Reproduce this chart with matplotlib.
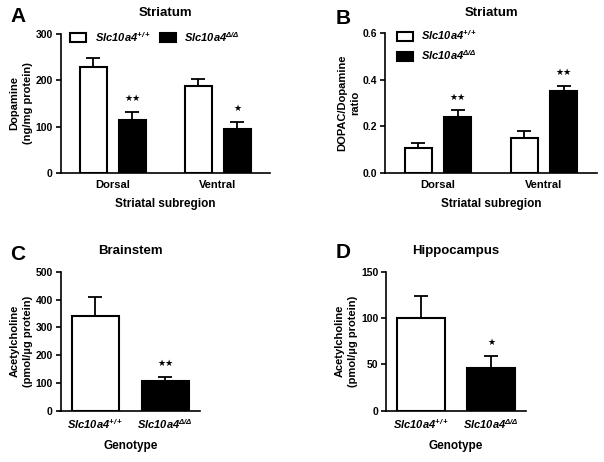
import matplotlib
matplotlib.use("Agg")
import matplotlib.pyplot as plt
import numpy as np

plt.rcParams['font.family'] = ['Liberation Sans', 'DejaVu Sans']
plt.rcParams['font.weight'] = 'bold'
plt.rcParams['mathtext.fontset'] = 'custom'
plt.rcParams['mathtext.rm'] = 'Liberation Sans:bold:italic'
plt.rcParams['mathtext.it'] = 'Liberation Sans:bold:italic'
plt.rcParams['mathtext.bf'] = 'Liberation Sans:bold:italic'

# ---------------- data ----------------
wt_label = r'$Slc10a4^{+/+}$'
ko_label = r'$Slc10a4^{\Delta/\Delta}$'

regions = ['Dorsal', 'Ventral']

# Panel A: Dopamine (ng/mg protein)
da_wt = [228, 188]
da_wt_err = [21, 14]
da_ko = [114, 95]
da_ko_err = [18, 15]
da_sig = ['★★', '★']

# Panel B: DOPAC/Dopamine ratio
ratio_wt = [0.106, 0.149]
ratio_wt_err = [0.024, 0.033]
ratio_ko = [0.240, 0.354]
ratio_ko_err = [0.029, 0.021]
ratio_sig = ['★★', '★★']

genotypes = [wt_label, ko_label]

# Panel C: Brainstem acetylcholine (pmol/ug protein)
bs_ach = [340, 108]
bs_ach_err = [68, 15]
bs_sig = ['', '★★']

# Panel D: Hippocampus acetylcholine
hc_ach = [100, 46]
hc_ach_err = [24, 13]
hc_sig = ['', '★']

# ---------------- figure ----------------
W, H = 604, 462
fig = plt.figure(figsize=(W / 100, H / 100), dpi=100)


def px_axes(x0, y0, x1, y1):
    return fig.add_axes([x0 / W, 1 - y1 / H, (x1 - x0) / W, (y1 - y0) / H])


def style(ax):
    for s in ['top', 'right']:
        ax.spines[s].set_visible(False)
    for s in ['left', 'bottom']:
        ax.spines[s].set_linewidth(1.2)
    ax.tick_params(axis='y', direction='out', length=3.5, width=1.2, labelsize=7.5, pad=2)
    ax.tick_params(axis='x', length=0, labelsize=8, pad=5)
    for lab in ax.get_yticklabels():
        lab.set_fontweight('bold')


def stars(ax, xs, tops, sig):
    for x, t, s in zip(xs, tops, sig):
        if s:
            ax.annotate(s, (x, t), xytext=(0, 9.5), textcoords='offset points',
                        ha='center', va='center', fontsize=6.5,
                        family='DejaVu Sans')


bar_kw = dict(edgecolor='black', linewidth=1.5)
err_kw = dict(elinewidth=1.3, capthick=1.3, ecolor='black')
CAP = 4.7
YL_KW = dict(fontsize=8, fontweight='bold', labelpad=2, linespacing=1.4)

# ---- Panel A ----
axA = px_axes(60.5, 34, 270, 173)
x = np.arange(len(regions))
off, bw = 0.187, 0.258
bA1 = axA.bar(x - off, da_wt, bw, color='white', yerr=[np.zeros(2), da_wt_err],
              capsize=CAP, error_kw=err_kw, label=wt_label, **bar_kw)
bA2 = axA.bar(x + off, da_ko, bw, color='black', yerr=[np.zeros(2), da_ko_err],
              capsize=CAP, error_kw=err_kw, label=ko_label, **bar_kw)
axA.set_xlim(-0.5, 1.5)
axA.set_ylim(0, 300)
axA.set_yticks([0, 100, 200, 300])
axA.set_xticks(x)
axA.set_xticklabels(regions, fontweight='bold')
axA.set_xlabel('Striatal subregion', fontsize=8.5, fontweight='bold', labelpad=6)
axA.set_ylabel('Dopamine\n(ng/mg protein)', **YL_KW)
style(axA)
stars(axA, x + off, np.array(da_ko) + np.array(da_ko_err), da_sig)
axA.legend(handles=[bA1, bA2], ncol=2, frameon=False, fontsize=8,
           loc='upper left', bbox_to_anchor=(0.02, 1.07), handlelength=1.45,
           handleheight=0.85, columnspacing=0.8, handletextpad=0.75, borderpad=0)

# ---- Panel B ----
axB = px_axes(385, 33.3, 597, 173)
axB.bar(x - off, ratio_wt, bw, color='white', yerr=[np.zeros(2), ratio_wt_err],
        capsize=CAP, error_kw=err_kw, label=wt_label, **bar_kw)
axB.bar(x + off, ratio_ko, bw, color='black', yerr=[np.zeros(2), ratio_ko_err],
        capsize=CAP, error_kw=err_kw, label=ko_label, **bar_kw)
axB.set_xlim(-0.5, 1.5)
axB.set_ylim(0, 0.6)
axB.set_yticks([0.0, 0.2, 0.4, 0.6])
axB.set_yticklabels(['0.0', '0.2', '0.4', '0.6'])
axB.set_xticks(x)
axB.set_xticklabels(regions, fontweight='bold')
axB.set_xlabel('Striatal subregion', fontsize=8.5, fontweight='bold', labelpad=6)
axB.set_ylabel('DOPAC/Dopamine\nratio', **YL_KW)
style(axB)
stars(axB, x + off, np.array(ratio_ko) + np.array(ratio_ko_err), ratio_sig)
axB.legend(ncol=1, frameon=False, fontsize=8, loc='upper left',
           bbox_to_anchor=(0.03, 1.075), handlelength=1.45, handleheight=0.85,
           handletextpad=0.75, borderpad=0, labelspacing=0.55)

# ---- Panel C ----
xg = np.arange(len(genotypes))
axC = px_axes(60.5, 271.7, 200, 410.7)
axC.bar(xg, bs_ach, 0.675, color=['white', 'black'],
        yerr=[np.zeros(2), bs_ach_err], capsize=CAP, error_kw=err_kw, **bar_kw)
axC.set_xlim(-0.5, 1.5)
axC.set_ylim(0, 500)
axC.set_yticks([0, 100, 200, 300, 400, 500])
axC.set_xticks(xg)
axC.set_xticklabels(genotypes, fontsize=8)
axC.set_xlabel('Genotype', fontsize=8.5, fontweight='bold', labelpad=6)
axC.set_ylabel('Acetylcholine\n(pmol/µg protein)', **YL_KW)
style(axC)
stars(axC, xg, np.array(bs_ach) + np.array(bs_ach_err), bs_sig)

# ---- Panel D ----
axD = px_axes(386, 271.7, 526, 410.7)
axD.bar(xg, hc_ach, 0.675, color=['white', 'black'],
        yerr=[np.zeros(2), hc_ach_err], capsize=CAP, error_kw=err_kw, **bar_kw)
axD.set_xlim(-0.5, 1.5)
axD.set_ylim(0, 150)
axD.set_yticks([0, 50, 100, 150])
axD.set_xticks(xg)
axD.set_xticklabels(genotypes, fontsize=8)
axD.set_xlabel('Genotype', fontsize=8.5, fontweight='bold', labelpad=6)
axD.set_ylabel('Acetylcholine\n(pmol/µg protein)', **YL_KW)
style(axD)
stars(axD, xg, np.array(hc_ach) + np.array(hc_ach_err), hc_sig)

# ---- titles and panel letters ----
for (cx, cy, t) in [(165, 13, 'Striatum'), (491, 13, 'Striatum'),
                    (130, 251, 'Brainstem'), (456, 251, 'Hippocampus')]:
    fig.text(cx / W, 1 - cy / H, t, ha='center', va='center', fontsize=9.5,
             fontweight='bold')
for (cx, cy, t) in [(18, 17, 'A'), (343, 18, 'B'), (18, 254, 'C'), (343, 252, 'D')]:
    fig.text(cx / W, 1 - cy / H, t, ha='center', va='center', fontsize=15,
             fontweight='bold')

fig.savefig('out.png', dpi=100)
